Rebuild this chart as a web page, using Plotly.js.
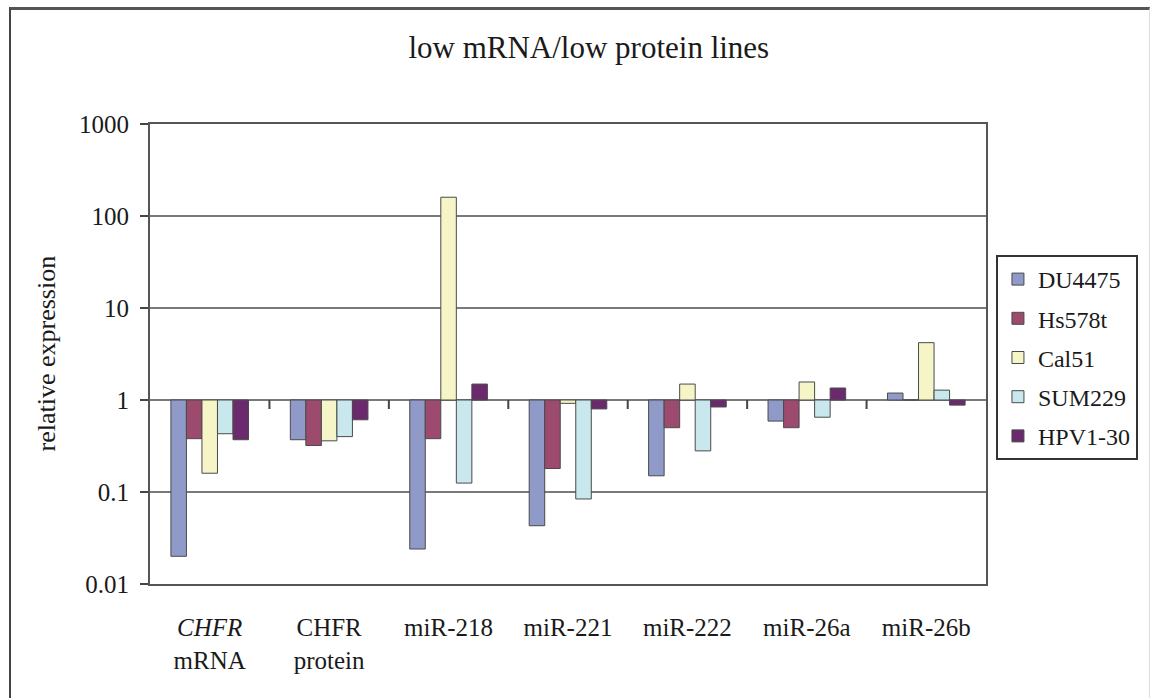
<!DOCTYPE html>
<html>
<head>
<meta charset="utf-8">
<script src="https://cdn.plot.ly/plotly-3.0.1.min.js"></script>
<style>
  html, body { margin: 0; padding: 0; background: #fff; }
  #wrap { position: relative; width: 1150px; height: 698px; }
  #chart { position: absolute; left: 0; top: 0; width: 1150px; height: 698px; }
  #frame { position: absolute; left: 9px; top: 7px; width: 1138px; height: 700px;
           border-left: 2px solid #444; border-top: 3px solid #555; border-right: 1px solid #ddd;
           pointer-events: none; }
</style>
</head>
<body>
<div id="wrap">
  <div id="chart"></div>
  <div id="frame"></div>
</div>
<script>
// ---- data ----
const categories = ['<i>CHFR</i><br>mRNA', 'CHFR<br>protein', 'miR-218', 'miR-221', 'miR-222', 'miR-26a', 'miR-26b'];
const seriesNames = ['DU4475', 'Hs578t', 'Cal51', 'SUM229', 'HPV1-30'];
const du4475 = [0.020, 0.37, 0.024, 0.043, 0.15, 0.59, 1.19];
const hs578t = [0.38, 0.32, 0.38, 0.18, 0.50, 0.50, 1.0];
const cal51  = [0.16, 0.36, 160, 0.92, 1.49, 1.57, 4.2];
const sum229 = [0.43, 0.40, 0.125, 0.084, 0.28, 0.65, 1.28];
const hpv130 = [0.37, 0.61, 1.49, 0.80, 0.84, 1.35, 0.88];
const yTickVals = [0.01, 0.1, 1, 10, 100, 1000];
const yTickText = ['0.01', '0.1', '1', '10', '100', '1000'];

const seriesValues = [du4475, hs578t, cal51, sum229, hpv130];
const colors = ['#8f9ac8', '#9c4a6d', '#f6f5c8', '#c9e8ee', '#6c2a6e'];

const FONT = 'Liberation Serif, Times New Roman, serif';
const baseline = 1;

const traces = seriesNames.map((name, i) => ({
  type: 'bar',
  name: name,
  x: categories,
  base: baseline,
  y: seriesValues[i].map(v => v - baseline),
  customdata: seriesValues[i],
  hovertemplate: '%{customdata}<extra>' + name + '</extra>',
  marker: { color: colors[i], line: { color: '#4a4a4a', width: 1 } },
  legendgroup: name
}));

const ML = 150, MR = 160, MT = 124, MB = 114;
const plotW = 1150 - ML - MR, plotH = 698 - MT - MB;
const yRange = [-2, 3];
const basePaper = (Math.log10(baseline) - yRange[0]) / (yRange[1] - yRange[0]);

// small tick marks hanging from the baseline at category boundaries
const shapes = [];
for (let i = 0; i < categories.length - 1; i++) {
  shapes.push({
    type: 'line', xref: 'x', yref: 'paper', ysizemode: 'pixel', yanchor: basePaper,
    x0: i + 0.5, x1: i + 0.5, y0: 0, y1: -9,
    line: { color: '#444', width: 2 }
  });
}

const layout = {
  width: 1150, height: 698,
  margin: { l: ML, r: MR, t: MT, b: MB, pad: 0 },
  paper_bgcolor: '#fff', plot_bgcolor: '#fff',
  font: { family: FONT, size: 25, color: '#1a1a1a' },
  title: {
    text: 'low mRNA/low protein lines',
    font: { family: FONT, size: 31, color: '#1a1a1a' },
    x: 0.512, xref: 'container', xanchor: 'center',
    y: 1 - 47 / 698, yref: 'container', yanchor: 'middle'
  },
  barmode: 'group',
  bargap: 0.35,
  bargroupgap: 0,
  showlegend: true,
  legend: {
    x: (1000 - ML) / plotW, xanchor: 'left',
    y: (698 - MB - 255) / plotH, yanchor: 'top',
    bgcolor: '#fff', bordercolor: '#333', borderwidth: 2,
    font: { family: FONT, size: 24, color: '#1a1a1a' },
    tracegroupgap: 5,
    itemclick: false
  },
  xaxis: {
    type: 'category',
    showgrid: false,
    showline: true, linecolor: '#555', linewidth: 2, mirror: true,
    ticks: '', tickfont: { family: FONT, size: 25, color: '#1a1a1a' },
    ticklabelstandoff: 20,
    zeroline: false
  },
  yaxis: {
    type: 'log',
    range: yRange,
    tickvals: yTickVals, ticktext: yTickText,
    tickfont: { family: FONT, size: 25, color: '#1a1a1a' },
    ticks: 'outside', ticklen: 8, tickwidth: 2, tickcolor: '#444',
    ticklabelstandoff: 6,
    showgrid: true, gridcolor: '#7a7a7a', gridwidth: 2,
    showline: true, linecolor: '#555', linewidth: 2, mirror: true,
    zeroline: false
  },
  shapes: shapes,
  annotations: [{
    text: 'relative expression', textangle: -90,
    xref: 'paper', yref: 'paper',
    x: (45 - ML) / plotW, y: 0.5, xanchor: 'center', yanchor: 'middle',
    showarrow: false, font: { family: FONT, size: 26, color: '#1a1a1a' }
  }]
};

Plotly.newPlot('chart', traces, layout, { displayModeBar: false, staticPlot: true });
</script>
</body>
</html>
